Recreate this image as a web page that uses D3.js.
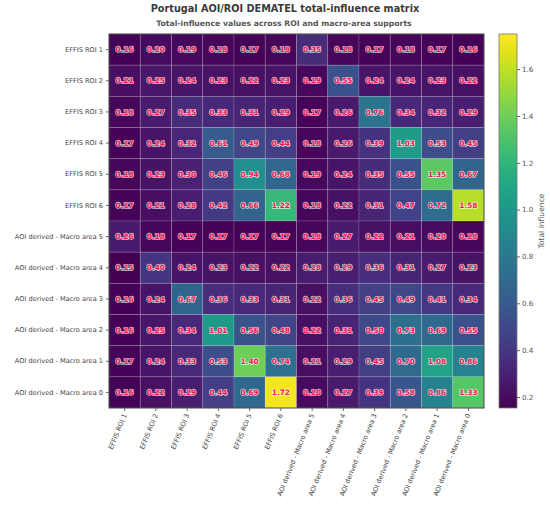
<!DOCTYPE html>
<html>
<head>
<meta charset="utf-8">
<script src="https://cdn.jsdelivr.net/npm/d3@7"></script>
<style>
  body { margin: 0; background: #fff; }
  svg { font-family: "DejaVu Sans", sans-serif; }
</style>
</head>
<body>
<div id="chart"></div>
<script>
var labels = [
    'EFFIS ROI 1', 'EFFIS ROI 2', 'EFFIS ROI 3', 'EFFIS ROI 4', 'EFFIS ROI 5', 'EFFIS ROI 6',
    'AOI derived - Macro area 5', 'AOI derived - Macro area 4', 'AOI derived - Macro area 3',
    'AOI derived - Macro area 2', 'AOI derived - Macro area 1', 'AOI derived - Macro area 0'
];

var values = [
    [0.16, 0.20, 0.19, 0.18, 0.17, 0.18, 0.35, 0.18, 0.17, 0.18, 0.17, 0.16],
    [0.21, 0.25, 0.24, 0.23, 0.22, 0.23, 0.19, 0.55, 0.24, 0.24, 0.23, 0.22],
    [0.18, 0.27, 0.35, 0.33, 0.31, 0.29, 0.17, 0.26, 0.76, 0.34, 0.32, 0.29],
    [0.17, 0.24, 0.32, 0.61, 0.49, 0.44, 0.18, 0.26, 0.39, 1.03, 0.53, 0.45],
    [0.18, 0.23, 0.30, 0.46, 0.94, 0.68, 0.19, 0.24, 0.35, 0.55, 1.35, 0.67],
    [0.17, 0.21, 0.28, 0.42, 0.66, 1.22, 0.18, 0.22, 0.31, 0.47, 0.72, 1.58],
    [0.26, 0.18, 0.17, 0.17, 0.17, 0.17, 0.18, 0.27, 0.22, 0.21, 0.20, 0.18],
    [0.15, 0.40, 0.24, 0.23, 0.22, 0.22, 0.28, 0.29, 0.36, 0.31, 0.27, 0.23],
    [0.16, 0.24, 0.67, 0.36, 0.33, 0.31, 0.22, 0.36, 0.45, 0.49, 0.41, 0.34],
    [0.16, 0.25, 0.34, 1.01, 0.56, 0.48, 0.22, 0.31, 0.50, 0.73, 0.69, 0.55],
    [0.17, 0.24, 0.33, 0.53, 1.40, 0.74, 0.21, 0.29, 0.45, 0.70, 1.08, 0.86],
    [0.16, 0.22, 0.29, 0.44, 0.69, 1.72, 0.20, 0.27, 0.39, 0.58, 0.86, 1.33]
];

var colorTicks = [0.2, 0.4, 0.6, 0.8, 1.0, 1.2, 1.4, 1.6];
var colorDomain = [0.153, 1.75];

var titleText = 'Portugal AOI/ROI DEMATEL total-influence matrix';
var subtitleText = 'Total-influence values across ROI and macro-area supports';
var colorbarLabel = 'Total influence';

(function() {
    var width = 550, height = 508;
    var left = 109, top = 34, plotW = 375, plotH = 374;

    var svg = d3.select('#chart').append('svg')
        .attr('width', width)
        .attr('height', height);

    var x = d3.scaleBand().domain(labels).range([left, left + plotW]);
    var y = d3.scaleBand().domain(labels).range([top, top + plotH]);
    var color = d3.scaleSequential(d3.interpolateViridis).domain(colorDomain);

    svg.append('text')
        .attr('x', 285).attr('y', 11.5)
        .attr('text-anchor', 'middle')
        .attr('font-size', '9.7px')
        .attr('font-weight', 'bold')
        .attr('fill', '#3a3a3a')
        .text(titleText);

    svg.append('text')
        .attr('x', 284).attr('y', 26)
        .attr('text-anchor', 'middle')
        .attr('font-size', '7.7px')
        .attr('font-weight', 'bold')
        .attr('fill', '#555')
        .text(subtitleText);

    var cells = [];
    values.forEach(function(row, i) {
        row.forEach(function(v, j) {
            cells.push({ row: labels[i], col: labels[j], value: v });
        });
    });

    var g = svg.append('g');

    g.selectAll('rect.cell')
        .data(cells)
        .join('rect')
        .attr('class', 'cell')
        .attr('x', function(d) { return x(d.col); })
        .attr('y', function(d) { return y(d.row); })
        .attr('width', x.bandwidth())
        .attr('height', y.bandwidth())
        .attr('fill', function(d) { return color(d.value); })
        .attr('stroke', 'rgba(255,255,255,0.18)')
        .attr('stroke-width', 0.8);

    g.selectAll('text.val')
        .data(cells)
        .join('text')
        .attr('class', 'val')
        .attr('x', function(d) { return x(d.col) + x.bandwidth() / 2; })
        .attr('y', function(d) { return y(d.row) + y.bandwidth() / 2; })
        .attr('dy', '0.35em')
        .attr('text-anchor', 'middle')
        .attr('font-size', '7.4px')
        .attr('font-weight', 'bold')
        .attr('fill', '#f0164f')
        .attr('stroke', 'rgba(255,255,255,0.75)')
        .attr('stroke-width', 1.4)
        .attr('paint-order', 'stroke')
        .text(function(d) { return d.value.toFixed(2); });

    svg.append('rect')
        .attr('x', left).attr('y', top)
        .attr('width', plotW).attr('height', plotH)
        .attr('fill', 'none')
        .attr('stroke', '#444')
        .attr('stroke-width', 1);

    // y axis labels
    var yAxis = svg.append('g')
        .attr('transform', 'translate(' + left + ',0)')
        .call(d3.axisLeft(y).tickSize(3).tickPadding(3));
    yAxis.select('.domain').remove();
    yAxis.selectAll('line').attr('stroke', '#666');
    yAxis.selectAll('text')
        .attr('fill', '#444')
        .attr('font-size', '6.6px')
        .attr('font-family', '"DejaVu Sans", sans-serif');

    // x axis labels, rotated
    var xAxis = svg.append('g')
        .attr('transform', 'translate(0,' + (top + plotH) + ')')
        .call(d3.axisBottom(x).tickSize(3).tickPadding(3));
    xAxis.select('.domain').remove();
    xAxis.selectAll('line').attr('stroke', '#666');
    xAxis.selectAll('text')
        .attr('fill', '#444')
        .attr('font-size', '6.6px')
        .attr('font-family', '"DejaVu Sans", sans-serif')
        .attr('text-anchor', 'end')
        .attr('y', 0)
        .attr('dx', '0')
        .attr('dy', '0.35em')
        .attr('transform', 'translate(0,6) rotate(-68)');

    // colorbar
    var cbX = 499, cbW = 18, cbTop = 34, cbH = 374;
    var cy = d3.scaleLinear().domain(colorDomain).range([cbTop + cbH, cbTop]);

    var defs = svg.append('defs');
    var grad = defs.append('linearGradient')
        .attr('id', 'cbgrad')
        .attr('x1', '0').attr('y1', '1').attr('x2', '0').attr('y2', '0');
    d3.range(0, 1.0001, 0.05).forEach(function(t) {
        grad.append('stop')
            .attr('offset', t)
            .attr('stop-color', d3.interpolateViridis(t));
    });

    svg.append('rect')
        .attr('x', cbX).attr('y', cbTop)
        .attr('width', cbW).attr('height', cbH)
        .attr('fill', 'url(#cbgrad)')
        .attr('stroke', '#777')
        .attr('stroke-width', 0.8);

    var cAxis = svg.append('g')
        .attr('transform', 'translate(' + (cbX + cbW) + ',0)')
        .call(d3.axisRight(cy).tickValues(colorTicks).tickSize(3).tickPadding(2)
            .tickFormat(d3.format('.1f')));
    cAxis.select('.domain').remove();
    cAxis.selectAll('line').attr('stroke', '#666');
    cAxis.selectAll('text')
        .attr('fill', '#555')
        .attr('font-size', '7.2px')
        .attr('font-family', '"DejaVu Sans", sans-serif');

    svg.append('text')
        .attr('transform', 'translate(544,' + (cbTop + cbH / 2) + ') rotate(-90)')
        .attr('text-anchor', 'middle')
        .attr('font-size', '7.6px')
        .attr('fill', '#555')
        .text(colorbarLabel);
})();
</script>
</body>
</html>
